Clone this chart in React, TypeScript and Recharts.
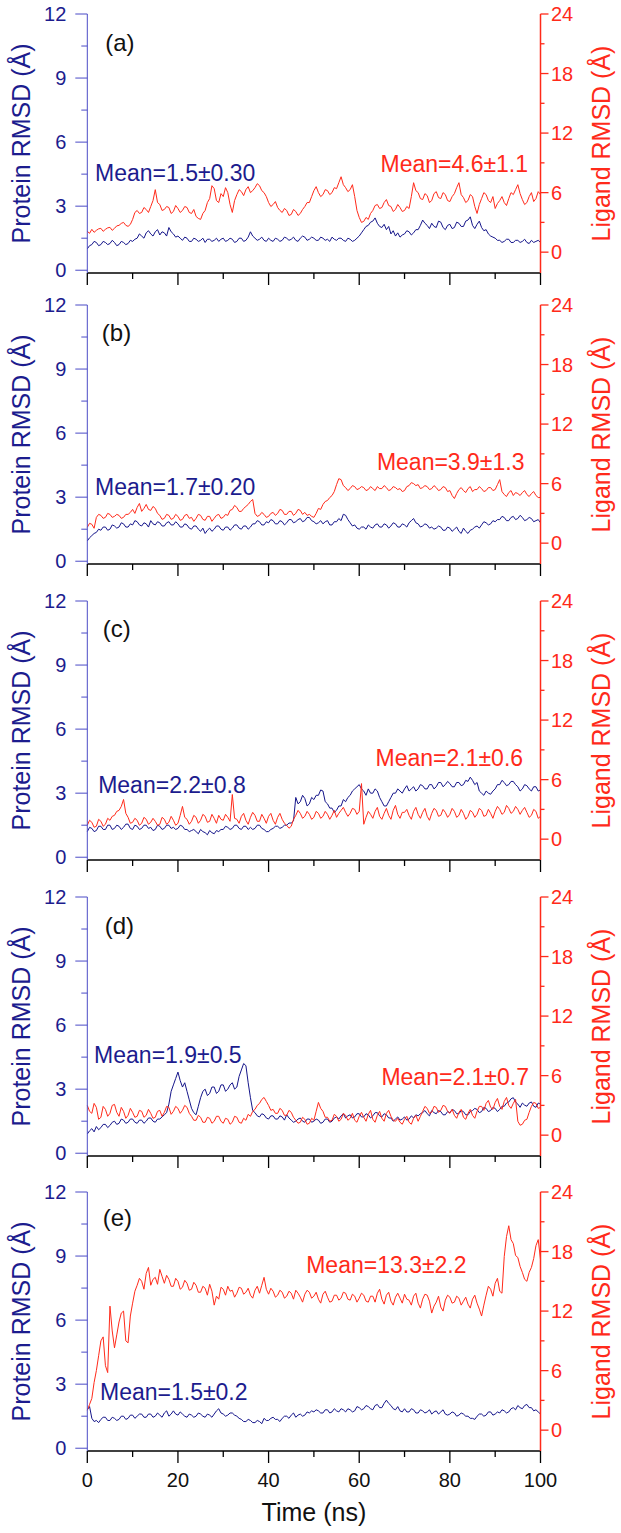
import React from "react";
import { LineChart, Line, XAxis, YAxis, ReferenceDot } from "recharts";

// time axis, ns (one sample every 0.5 ns)
const TIME_NS = Array.from({ length: 201 }, (_, i) => i / 2);

// protein RMSD (Å), left axis
const PROTEIN_A = [
  1.0, 1.15, 1.2, 1.35, 1.3, 1.15, 1.2, 1.35, 1.3, 1.2, 1.25, 1.4, 1.3, 1.15, 1.2, 1.35, 1.3, 1.2, 1.25, 1.4,
  1.35, 1.45, 1.5, 1.7, 1.6, 1.5, 1.75, 1.85, 1.7, 1.6, 1.8, 1.9, 1.65, 1.8, 1.75, 1.6, 2.0, 1.8, 1.7, 1.55,
  1.6, 1.5, 1.4, 1.55, 1.5, 1.35, 1.35, 1.5, 1.45, 1.35, 1.4, 1.5, 1.3, 1.45, 1.45, 1.35, 1.4, 1.5, 1.35, 1.45,
  1.5, 1.35, 1.4, 1.5, 1.45, 1.3, 1.35, 1.5, 1.5, 1.35, 1.4, 1.55, 1.8, 1.6, 1.5, 1.4, 1.45, 1.55, 1.4, 1.35,
  1.5, 1.4, 1.35, 1.5, 1.45, 1.35, 1.4, 1.55, 1.5, 1.4, 1.45, 1.55, 1.4, 1.35, 1.5, 1.6, 1.55, 1.4, 1.45, 1.55,
  1.5, 1.4, 1.4, 1.55, 1.5, 1.4, 1.45, 1.35, 1.55, 1.45, 1.4, 1.5, 1.5, 1.4, 1.35, 1.5, 1.45, 1.35, 1.4, 1.5,
  1.6, 1.75, 1.9, 2.05, 2.1, 2.25, 2.3, 2.45, 2.2, 2.05, 2.0, 2.15, 1.9, 2.05, 1.7, 1.85, 1.6, 1.75, 1.55, 1.65,
  1.7, 1.85, 1.8, 1.65, 1.75, 1.9, 1.9, 2.1, 2.35, 2.2, 2.1, 1.95, 2.2, 2.05, 2.0, 2.3, 2.25, 2.0, 1.9, 2.1,
  2.15, 1.95, 2.0, 2.25, 2.2, 2.05, 2.05, 2.3, 2.35, 2.5, 2.1, 1.95, 2.15, 2.3, 2.0, 1.85, 1.9, 1.7, 1.6, 1.55,
  1.5, 1.4, 1.4, 1.3, 1.35, 1.45, 1.45, 1.3, 1.3, 1.4, 1.4, 1.3, 1.35, 1.45, 1.3, 1.25, 1.4, 1.3, 1.35, 1.4,
  1.3,
];
const PROTEIN_B = [
  0.95, 1.1, 1.2, 1.3, 1.35, 1.5, 1.45, 1.6, 1.6, 1.45, 1.5, 1.7, 1.65, 1.55, 1.6, 1.8, 1.75, 1.6, 1.6, 1.75,
  1.7, 1.9, 1.85, 1.7, 1.65, 1.8, 1.75, 1.6, 1.9, 1.75, 1.7, 1.85, 1.8, 1.65, 1.65, 1.8, 1.85, 1.7, 1.7, 1.85,
  1.75, 1.6, 1.6, 1.75, 1.7, 1.55, 1.5, 1.65, 1.65, 1.5, 1.4, 1.55, 1.3, 1.45, 1.55, 1.4, 1.5, 1.65, 1.65, 1.5,
  1.45, 1.6, 1.6, 1.45, 1.55, 1.7, 1.7, 1.55, 1.5, 1.65, 1.65, 1.5, 1.6, 1.75, 1.75, 1.9, 1.85, 1.7, 1.7, 1.85,
  1.8, 1.95, 1.9, 1.75, 1.75, 1.9, 1.85, 1.7, 1.8, 1.95, 1.95, 1.8, 1.85, 1.95, 2.0, 1.85, 1.9, 2.05, 2.05, 1.9,
  1.85, 1.75, 1.8, 1.9, 1.75, 1.85, 1.9, 1.7, 1.7, 1.85, 1.85, 2.0, 1.9, 2.2, 2.15, 1.95, 1.8, 1.65, 1.7, 1.55,
  1.5, 1.6, 1.6, 1.5, 1.7, 1.6, 1.55, 1.7, 1.75, 1.6, 1.6, 1.75, 1.7, 1.55, 1.65, 1.8, 1.75, 1.6, 1.6, 1.75,
  1.7, 1.6, 1.8, 1.9, 2.0, 1.8, 1.75, 1.6, 1.65, 1.75, 1.7, 1.55, 1.6, 1.5, 1.55, 1.65, 1.6, 1.45, 1.45, 1.6,
  1.55, 1.4, 1.5, 1.6, 1.4, 1.3, 1.55, 1.4, 1.3, 1.45, 1.5, 1.6, 1.65, 1.55, 1.7, 1.85, 1.8, 1.7, 1.75, 1.9,
  1.85, 1.95, 1.95, 2.1, 2.05, 1.9, 1.9, 2.05, 2.1, 1.95, 2.0, 2.15, 2.05, 1.9, 1.95, 2.05, 2.0, 1.85, 1.9, 1.95,
  1.8,
];
const PROTEIN_C = [
  1.2, 1.4, 1.35, 1.2, 1.25, 1.45, 1.45, 1.3, 1.3, 1.5, 1.5, 1.3, 1.35, 1.5, 1.45, 1.3, 1.4, 1.55, 1.55, 1.35,
  1.3, 1.5, 1.45, 1.3, 1.35, 1.5, 1.5, 1.35, 1.4, 1.25, 1.3, 1.5, 1.45, 1.3, 1.35, 1.5, 1.5, 1.35, 1.4, 1.3,
  1.35, 1.5, 1.45, 1.3, 1.3, 1.2, 1.25, 1.3, 1.2, 1.1, 1.3, 1.2, 1.15, 1.05, 1.25, 1.15, 1.1, 1.25, 1.2, 1.3,
  1.3, 1.45, 1.4, 1.3, 1.35, 1.5, 1.5, 1.35, 1.3, 1.45, 1.45, 1.3, 1.4, 1.3, 1.35, 1.5, 1.5, 1.35, 1.3, 1.2,
  1.2, 1.3, 1.35, 1.45, 1.45, 1.35, 1.4, 1.5, 1.5, 1.6, 1.6, 1.7, 2.8, 2.5, 2.6, 2.9, 2.75, 2.4, 2.5, 2.8,
  2.7, 2.9, 2.9, 3.15, 3.1, 2.6, 2.5, 2.3, 2.3, 2.1, 2.2, 2.4, 2.4, 2.7, 2.6, 2.8, 2.9, 3.1, 3.2, 3.3,
  3.4, 3.2, 3.1, 2.9, 3.2, 3.0, 3.0, 3.2, 3.1, 2.8, 2.6, 2.4, 2.4, 2.6, 2.8, 3.0, 3.0, 3.2, 3.1, 3.0,
  3.2, 3.35, 3.1, 3.2, 3.3, 3.1, 3.2, 3.4, 3.35, 3.2, 3.2, 3.4, 3.4, 3.2, 3.3, 3.5, 3.5, 3.3, 3.4, 3.55,
  3.45, 3.3, 3.3, 3.5, 3.5, 3.35, 3.4, 3.6, 3.55, 3.75, 3.6, 3.4, 3.5, 3.1, 3.0, 2.9, 3.1, 3.0, 2.95, 3.1,
  3.2, 3.4, 3.4, 3.6, 3.5, 3.35, 3.4, 3.55, 3.55, 3.4, 3.3, 3.1, 3.2, 3.4, 3.35, 3.2, 3.1, 3.3, 3.3, 3.1,
  3.15,
];
const PROTEIN_D = [
  0.9, 1.05, 1.15, 1.0, 1.25, 1.1, 1.2, 1.35, 1.35, 1.2, 1.3, 1.45, 1.5, 1.35, 1.4, 1.6, 1.55, 1.4, 1.45, 1.6,
  1.6, 1.45, 1.4, 1.55, 1.55, 1.4, 1.5, 1.65, 1.65, 1.5, 1.45, 1.6, 1.6, 1.7, 1.8, 1.9, 2.3, 2.9, 3.2, 3.5,
  3.8, 3.4, 3.1, 3.3, 2.9, 2.5, 2.1, 1.9, 1.8, 2.2, 2.6, 2.9, 3.0, 2.7, 2.8, 3.1, 3.1, 2.8, 2.9, 3.2,
  3.2, 2.9, 3.0, 3.2, 3.3, 3.0, 3.1, 3.6, 3.9, 4.2, 4.1, 3.3, 2.6, 2.0, 1.9, 1.75, 1.7, 1.85, 1.8, 1.65,
  1.6, 1.75, 1.75, 1.6, 1.6, 1.75, 1.7, 1.55, 1.8, 1.65, 1.55, 1.45, 1.5, 1.6, 1.65, 1.5, 1.45, 1.6, 1.6, 1.45,
  1.5, 1.6, 1.55, 1.4, 1.45, 1.6, 1.6, 1.45, 1.5, 1.65, 1.7, 1.6, 1.75, 1.85, 1.65, 1.75, 1.8, 1.65, 1.7, 1.85,
  1.85, 1.7, 1.7, 1.85, 1.8, 1.65, 1.75, 1.9, 1.9, 1.75, 1.7, 1.85, 1.8, 1.65, 1.65, 1.5, 1.6, 1.7, 1.55, 1.6,
  1.7, 1.55, 1.6, 1.75, 1.65, 1.8, 1.75, 1.85, 1.9, 2.0, 1.85, 1.75, 2.0, 1.9, 1.85, 2.0, 1.95, 1.8, 1.8, 1.95,
  1.9, 2.05, 2.0, 1.85, 1.85, 2.0, 1.95, 1.8, 1.8, 1.95, 2.0, 2.1, 2.05, 1.9, 1.95, 2.15, 2.1, 1.95, 2.0, 2.15,
  2.1, 1.95, 2.05, 2.2, 2.2, 2.35, 2.4, 2.55, 2.6, 2.4, 2.3, 2.15, 2.35, 2.25, 2.2, 2.35, 2.4, 2.2, 2.15, 2.35,
  2.3,
];
const PROTEIN_E = [
  1.8, 1.95, 1.4, 1.25, 1.3, 1.2, 1.35, 1.45, 1.45, 1.3, 1.3, 1.45, 1.4, 1.3, 1.35, 1.5, 1.5, 1.35, 1.4, 1.55,
  1.55, 1.4, 1.5, 1.6, 1.6, 1.45, 1.45, 1.6, 1.6, 1.45, 1.5, 1.65, 1.55, 1.45, 1.65, 1.75, 1.5, 1.6, 1.75, 1.6,
  1.55, 1.7, 1.6, 1.5, 1.45, 1.6, 1.55, 1.45, 1.5, 1.65, 1.6, 1.5, 1.45, 1.6, 1.55, 1.45, 1.6, 1.75, 1.85, 1.65,
  1.6, 1.5, 1.55, 1.65, 1.65, 1.55, 1.5, 1.4, 1.35, 1.25, 1.25, 1.35, 1.3, 1.2, 1.2, 1.3, 1.25, 1.15, 1.4, 1.3,
  1.3, 1.4, 1.45, 1.35, 1.35, 1.25, 1.4, 1.5, 1.5, 1.4, 1.55, 1.65, 1.45, 1.55, 1.6, 1.5, 1.55, 1.7, 1.65, 1.75,
  1.7, 1.8, 1.75, 1.65, 1.65, 1.8, 1.8, 1.65, 1.7, 1.85, 1.75, 1.7, 1.85, 1.8, 1.7, 1.85, 1.8, 1.7, 1.75, 1.95,
  1.9, 1.8, 1.85, 2.0, 1.95, 1.85, 1.8, 2.0, 2.05, 1.9, 1.9, 2.1, 2.25, 2.1, 2.0, 1.85, 1.8, 1.95, 1.75, 1.7,
  1.85, 1.7, 1.7, 1.85, 1.8, 1.65, 1.65, 1.8, 1.75, 1.65, 1.7, 1.8, 1.6, 1.7, 1.75, 1.6, 1.7, 1.8, 1.6, 1.55,
  1.6, 1.7, 1.65, 1.5, 1.55, 1.65, 1.6, 1.5, 1.5, 1.4, 1.4, 1.35, 1.5, 1.6, 1.6, 1.5, 1.55, 1.7, 1.7, 1.55,
  1.6, 1.7, 1.65, 1.8, 1.75, 1.65, 1.7, 1.85, 1.9, 1.8, 2.0, 1.9, 1.85, 2.0, 2.05, 1.9, 1.9, 1.75, 1.8, 1.7,
  1.6,
];

// ligand RMSD (Å), right axis
const LIGAND_A = [
  2.1, 1.9, 2.3, 2.0, 2.2, 2.35, 2.4, 2.1, 2.3, 2.45, 2.5, 2.2, 2.4, 2.65, 2.7, 2.9, 3.0, 2.7, 2.6, 2.8,
  3.3, 4.0, 4.2, 3.9, 4.0, 4.5, 4.3, 4.0, 4.6, 5.2, 6.3, 5.0, 4.8, 4.2, 4.3, 4.6, 4.5, 3.9, 4.1, 4.7,
  4.4, 4.0, 4.2, 4.6, 4.5, 4.0, 3.9, 4.3, 3.6, 3.4, 3.3, 3.9, 4.2, 5.0, 5.4, 6.7, 6.4, 5.2, 5.0, 5.9,
  5.6, 6.5, 6.0, 4.8, 4.0, 5.2, 5.8, 6.3, 6.1, 5.7, 6.3, 6.6, 6.0, 6.2, 6.5, 6.9, 6.7, 6.2, 6.0, 5.6,
  5.0, 4.6, 4.8, 5.1, 4.5, 4.2, 4.0, 4.4, 4.2, 3.7, 3.8, 4.3, 4.1, 3.7, 3.9, 4.3, 4.6, 5.0, 5.0, 5.6,
  6.2, 6.6, 6.0, 5.6, 5.8, 6.3, 6.2, 5.8, 6.0, 6.5, 6.4, 7.0, 7.6, 6.8, 6.5, 6.1, 6.3, 6.8, 5.6, 4.2,
  3.5, 3.0, 3.1, 3.5, 3.3, 3.9, 4.2, 4.7, 4.8, 4.4, 4.5, 5.0, 5.3, 4.7, 4.6, 4.1, 4.3, 4.8, 4.5, 4.1,
  4.2, 4.6, 4.4, 5.6, 7.0, 6.2, 6.0, 5.4, 5.3, 5.9, 5.7, 5.0, 5.2, 5.9, 6.1, 5.5, 5.4, 6.0, 5.8, 5.2,
  5.1, 5.6, 5.9, 6.5, 7.0, 5.8, 5.5, 5.0, 5.2, 5.8, 5.6, 4.6, 3.9, 4.8, 5.4, 6.0, 5.8, 5.2, 5.0, 5.6,
  4.4, 4.9, 5.2, 5.6, 5.0, 4.7, 5.4, 6.0, 5.8, 6.3, 6.8, 5.9, 5.3, 4.8, 5.0, 5.6, 6.0, 5.1, 5.4, 6.1,
  5.8,
];
const LIGAND_B = [
  1.6, 2.0, 1.9, 1.5, 2.6, 2.9, 2.8, 2.5, 2.6, 3.0, 2.9, 2.6, 2.7, 2.9, 2.8, 2.5, 2.6, 2.9, 2.9, 3.1,
  3.4, 3.0, 3.6, 4.0, 3.2, 3.5, 3.9, 3.4, 3.3, 3.7, 3.5, 3.0, 2.8, 2.4, 2.5, 2.9, 2.8, 2.4, 2.5, 2.9,
  2.7, 2.3, 2.4, 2.8, 2.9, 2.5, 2.6, 2.2, 2.5, 2.9, 2.8, 2.4, 2.3, 2.7, 2.7, 2.2, 2.5, 2.8, 2.9, 2.5,
  2.6, 2.9, 2.8, 3.3, 3.4, 3.8, 3.6, 3.2, 3.2, 3.5, 3.7, 3.9, 4.2, 4.4, 3.0, 2.7, 2.8, 3.1, 2.9, 2.6,
  2.7, 3.0, 3.1, 2.8, 3.0, 3.4, 3.3, 2.9, 2.9, 3.2, 3.2, 2.8, 3.0, 3.4, 3.3, 2.9, 3.1, 2.8, 2.9, 2.7,
  2.6, 3.0, 3.5, 3.4, 3.9, 4.2, 4.3, 4.6, 4.8, 5.2, 5.9, 6.5, 6.4, 5.8, 5.6, 5.3, 5.5, 5.8, 5.7, 5.4,
  5.5, 5.7, 5.6, 5.3, 5.4, 5.7, 5.5, 5.3, 5.7, 5.5, 5.5, 5.8, 5.6, 5.3, 5.4, 5.7, 5.6, 5.4, 5.5, 5.2,
  5.3, 5.7, 5.8, 6.1, 6.0, 5.8, 5.9, 5.5, 5.6, 5.8, 5.7, 5.4, 5.5, 5.8, 5.6, 5.3, 5.4, 5.7, 5.6, 5.2,
  5.3, 4.8, 4.5, 5.0, 5.4, 5.6, 5.3, 5.1, 5.5, 5.7, 5.2, 5.4, 5.4, 5.7, 5.5, 5.2, 5.3, 5.6, 5.6, 5.3,
  5.4, 5.9, 6.4, 5.2, 4.9, 4.7, 5.1, 5.3, 4.8, 5.1, 5.0, 4.8, 5.1, 5.3, 4.9, 4.7, 5.0, 5.2, 4.8, 4.6,
  4.6,
];
const LIGAND_C = [
  1.4, 1.9, 1.7, 1.2, 1.3, 2.0, 1.8, 1.3, 1.5, 2.1, 1.9, 2.3, 2.4, 2.8, 2.9, 3.3, 4.0, 2.6, 2.2, 1.6,
  1.7, 2.1, 1.9, 1.4, 1.6, 2.2, 2.0, 1.5, 1.7, 2.1, 1.8, 1.4, 1.5, 2.2, 2.0, 1.5, 1.7, 2.3, 1.9, 1.4,
  1.6, 2.4, 3.3, 2.2, 2.0, 1.5, 1.8, 2.4, 2.2, 1.6, 1.9, 2.5, 2.3, 1.7, 1.8, 2.5, 2.1, 1.6, 2.4, 2.0,
  1.9, 2.5, 2.2, 1.8, 4.5, 2.1, 2.0, 1.6, 2.3, 2.6, 1.9, 1.5, 2.2, 2.7, 2.4, 1.8, 1.8, 2.5, 2.1, 1.6,
  2.3, 2.6, 1.9, 1.5, 2.2, 2.6, 2.0, 1.6, 1.4, 1.1, 1.3, 2.0, 2.4, 2.9, 2.6, 2.1, 2.3, 2.8, 2.5, 2.0,
  2.2, 2.8, 2.6, 2.1, 2.3, 2.8, 2.5, 2.0, 2.4, 2.9, 2.2, 2.6, 2.9, 3.2, 2.7, 2.3, 2.6, 3.1, 3.0, 2.5,
  2.8, 5.6, 1.5, 2.2, 2.8, 2.5, 2.1, 2.8, 3.2, 2.3, 2.0, 2.6, 3.1, 2.4, 2.0, 2.9, 3.4, 2.5, 2.1, 2.7,
  2.7, 3.0, 2.4, 2.0, 2.8, 3.2, 2.5, 2.1, 2.7, 3.1, 2.3, 1.9, 2.6, 3.1, 2.9, 2.3, 2.4, 3.0, 2.7, 2.2,
  2.5, 3.1, 2.8, 2.2, 2.4, 3.0, 2.6, 2.0, 2.3, 2.9, 2.7, 2.2, 2.5, 3.1, 2.9, 2.3, 2.4, 3.0, 2.6, 2.1,
  2.8, 3.3, 3.0, 2.5, 2.7, 3.4, 3.1, 2.6, 2.8, 3.3, 3.0, 2.5, 2.9, 3.2, 2.7, 2.2, 2.4, 3.0, 2.8, 2.1,
  2.3,
];
const LIGAND_D = [
  3.0, 2.4, 2.2, 3.2, 2.8, 1.6, 1.8, 2.9, 2.6, 1.9, 2.2, 3.0, 3.1, 2.3, 1.9, 2.8, 2.4, 1.7, 2.0, 2.7,
  2.3, 1.8, 1.9, 2.5, 2.4, 1.8, 2.0, 2.6, 2.2, 1.7, 1.8, 2.4, 2.5, 1.9, 2.3, 2.9, 2.8, 2.1, 2.4, 2.9,
  2.7, 2.2, 2.5, 3.0, 2.8, 2.2, 1.9, 1.5, 1.5, 2.0, 1.8, 1.3, 1.3, 1.8, 1.7, 1.2, 1.4, 1.9, 1.9, 1.4,
  1.2, 1.7, 1.6, 1.1, 1.3, 1.9, 1.8, 1.3, 1.2, 1.7, 1.5, 2.1, 1.9, 2.4, 2.6, 3.0, 3.2, 3.6, 3.8, 3.4,
  3.0, 2.5, 2.6, 2.2, 2.2, 2.7, 2.5, 2.0, 2.0, 2.5, 2.3, 1.8, 1.5, 1.2, 1.3, 1.8, 1.6, 1.1, 1.2, 1.7,
  1.5, 2.4, 3.3, 2.7, 2.4, 1.8, 1.8, 1.4, 1.5, 2.1, 1.9, 1.4, 1.6, 2.2, 2.0, 1.5, 1.7, 2.2, 1.5, 1.3,
  1.9, 2.3, 1.8, 1.4, 2.1, 2.5, 1.6, 1.3, 2.0, 2.4, 1.7, 1.4, 2.2, 2.5, 1.9, 1.5, 1.4, 1.7, 1.3, 1.1,
  1.6, 1.9, 1.3, 1.1, 1.7, 2.0, 1.4, 1.9, 2.4, 2.9, 2.7, 2.2, 2.3, 2.9, 2.8, 2.3, 2.5, 3.0, 2.9, 2.4,
  2.2, 2.6, 2.0, 1.7, 2.3, 2.6, 1.8, 1.6, 2.2, 2.6, 2.0, 1.7, 2.4, 2.9, 2.9, 2.5, 3.2, 3.5, 2.8, 2.6,
  3.3, 3.7, 2.9, 2.6, 3.4, 3.8, 3.0, 2.7, 3.2, 3.6, 1.4, 1.0, 1.1, 1.5, 1.6, 2.3, 2.9, 3.3, 3.2, 2.7,
  2.8,
];
const LIGAND_E = [
  2.0, 2.6, 3.2, 4.8, 6.0, 7.5, 9.0, 9.4, 6.5, 5.8, 12.5, 10.0, 8.3, 9.6, 10.9, 11.8, 12.0, 9.0, 8.8, 11.5,
  12.8, 14.0, 14.6, 15.3, 15.0, 14.2, 15.8, 16.4, 14.6, 15.2, 15.4, 14.7, 16.2, 15.5, 14.8, 15.6, 15.2, 14.5, 14.5, 15.3,
  15.0, 14.2, 14.4, 15.1, 14.8, 14.1, 14.2, 14.9, 14.6, 13.9, 13.9, 14.5, 14.3, 13.6, 14.7, 14.0, 12.6, 13.5, 13.2, 14.4,
  14.2, 13.6, 14.5, 14.0, 14.1, 13.4, 13.8, 14.4, 14.3, 13.7, 13.9, 14.3, 13.6, 13.3, 14.1, 14.5, 13.8, 14.6, 15.4, 14.2,
  13.7, 14.3, 14.0, 13.4, 13.6, 14.1, 13.9, 13.3, 13.5, 14.0, 13.8, 13.2, 14.1, 13.8, 13.4, 12.9, 13.7, 14.1, 13.9, 13.3,
  13.5, 13.9, 13.2, 12.8, 13.7, 14.0, 13.4, 12.9, 13.0, 13.6, 13.6, 13.1, 13.3, 13.9, 13.8, 13.2, 13.1, 13.7, 13.5, 12.9,
  13.3, 13.8, 13.6, 13.0, 12.9, 13.5, 13.5, 12.9, 13.8, 14.2, 13.2, 12.7, 13.6, 13.9, 13.0, 12.6, 13.4, 13.8, 13.3, 12.8,
  13.7, 13.2, 13.1, 12.6, 13.5, 13.8, 12.8, 12.3, 13.2, 13.7, 13.6, 13.0, 11.8, 12.5, 12.9, 13.5, 12.4, 12.0, 13.1, 13.6,
  13.4, 12.8, 12.9, 13.5, 13.3, 12.6, 13.0, 13.4, 12.7, 12.3, 13.2, 13.6, 12.8, 12.2, 11.5, 12.6, 13.6, 14.5, 14.2, 13.5,
  14.8, 15.3, 14.0, 13.8, 17.5, 19.5, 20.6, 19.2, 18.8, 17.6, 17.4, 16.5, 15.9, 15.2, 15.0, 15.9, 16.4, 17.3, 18.6, 19.2,
  17.2,
];

const PANEL_TAGS = ["(a)", "(b)", "(c)", "(d)", "(e)"];
const PROTEIN_MEANS = ["Mean=1.5±0.30", "Mean=1.7±0.20", "Mean=2.2±0.8", "Mean=1.9±0.5", "Mean=1.5±0.2"];
const LIGAND_MEANS = ["Mean=4.6±1.1", "Mean=3.9±1.3", "Mean=2.1±0.6", "Mean=2.1±0.7", "Mean=13.3±2.2"];

const X_TICKS = [0, 10, 20, 30, 40, 50, 60, 70, 80, 90, 100];
const LEFT_TICKS = [0, 1.5, 3, 4.5, 6, 7.5, 9, 10.5, 12];
const RIGHT_TICKS = [0, 3, 6, 9, 12, 15, 18, 21, 24];

// layout
const FONT = '"Liberation Sans", Arial, sans-serif';
const BLUE = "#15158a";
const BLUE_TEXT = "#1c1c8e";
const BLUE_AXIS = "#4b4bc6";
const RED = "#ff2a1a";
const W = 621;
const PLOT_TOPS = [14, 305, 601, 897, 1192];
const PLOT_H = 259;
const LEFT_W = 87.3;
const RIGHT_W = 80.5;

// annotation anchors in data units [ns, protein Å]
const TAG_POS = [[3.97, 10.65], [3.2, 10.7], [3.4, 10.7], [3.85, 10.67], [3.4, 10.83]];
const PMEAN_POS = [[1.7, 4.55], [1.7, 3.49], [2.4, 3.37], [1.5, 4.6], [2.8, 2.64]];
const LMEAN_POS = [[64.7, 5.0], [63.9, 4.65], [63.6, 4.66], [64.9, 3.58], [48.3, 8.58]];

const panels = [
  { p: PROTEIN_A, l: LIGAND_A },
  { p: PROTEIN_B, l: LIGAND_B },
  { p: PROTEIN_C, l: LIGAND_C },
  { p: PROTEIN_D, l: LIGAND_D },
  { p: PROTEIN_E, l: LIGAND_E },
];

function LeftTick(props: any) {
  const { x, y, payload } = props;
  const major = payload.value % 3 === 0;
  return (
    <g>
      <line x1={x} x2={x - (major ? 12 : 6)} y1={y} y2={y} stroke={BLUE_AXIS} strokeWidth={1} />
      {major && (
        <text x={x - 21} y={y} dy="0.36em" textAnchor="end" fill={BLUE_TEXT} fontSize={20} fontFamily={FONT}>
          {payload.value}
        </text>
      )}
    </g>
  );
}

function RightTick(props: any) {
  const { x, y, payload } = props;
  const major = payload.value % 6 === 0;
  return (
    <g>
      <line x1={x} x2={x + (major ? 8 : 4)} y1={y} y2={y} stroke={RED} strokeWidth={1.3} />
      {major && (
        <text x={x + 10.5} y={y} dy="0.36em" textAnchor="start" fill={RED} fontSize={20} fontFamily={FONT}>
          {payload.value}
        </text>
      )}
    </g>
  );
}

function BottomTick(props: any) {
  const { x, y, payload, showLabel } = props;
  const major = payload.value % 20 === 0;
  return (
    <g>
      <line x1={x} x2={x} y1={y} y2={y + (major ? 12 : 6)} stroke="#000" strokeWidth={1.3} />
      {showLabel && major && (
        <text x={x} y={y + 29} dy="0.36em" textAnchor="middle" fill="#111" fontSize={20} fontFamily={FONT}>
          {payload.value}
        </text>
      )}
    </g>
  );
}

function TopTick(props: any) {
  const { x, y, payload } = props;
  const major = payload.value % 20 === 0;
  return <line x1={x} x2={x} y1={y} y2={y + (major ? 12 : 7)} stroke="#000" strokeWidth={1.3} />;
}

function Panel({ idx }: { idx: number }) {
  const last = idx === panels.length - 1;
  const { p, l } = panels[idx];
  const data = TIME_NS.map((t, i) => ({ t, p: p[i], l: l[i] }));
  const height = last ? 1533 - (PLOT_TOPS[idx] - 14) : 290;
  const xAxisH = height - 14 - PLOT_H;
  return (
    <div style={{ position: "absolute", left: 0, top: PLOT_TOPS[idx] - 14 }}>
      <LineChart width={W} height={height} data={data} margin={{ top: 14, right: 0, bottom: 0, left: 0 }}>
        <XAxis
          xAxisId="top"
          orientation="top"
          type="number"
          dataKey="t"
          domain={[0, 100]}
          ticks={X_TICKS}
          interval={0}
          height={0}
          tickSize={0}
          tickMargin={0}
          tickLine={false}
          tick={(tp: any) => <TopTick {...tp} />}
          axisLine={{ stroke: "#000", strokeWidth: 1.5 }}
        />
        <XAxis
          type="number"
          dataKey="t"
          domain={[0, 100]}
          ticks={X_TICKS}
          interval={0}
          height={xAxisH}
          tickSize={0}
          tickMargin={0}
          tickLine={false}
          tick={(tp: any) => <BottomTick {...tp} showLabel={last} />}
          axisLine={{ stroke: "#000", strokeWidth: 1.5 }}
          label={
            last
              ? { value: "Time (ns)", position: "insideBottom", offset: 12, fill: "#111", fontSize: 25, fontFamily: FONT }
              : undefined
          }
        />
        <YAxis
          yAxisId="left"
          orientation="left"
          type="number"
          domain={[-0.13, 12]}
          allowDataOverflow
          ticks={LEFT_TICKS}
          interval={0}
          width={LEFT_W}
          tickSize={0}
          tickMargin={0}
          tickLine={false}
          tick={(tp: any) => <LeftTick {...tp} />}
          axisLine={{ stroke: BLUE_AXIS, strokeWidth: 1 }}
          label={{
            value: "Protein RMSD (Å)",
            angle: -90,
            position: "insideLeft",
            offset: 21,
            textAnchor: "middle",
            fill: BLUE_TEXT,
            fontSize: 25,
            fontFamily: FONT,
          }}
        />
        <YAxis
          yAxisId="right"
          orientation="right"
          type="number"
          domain={[-2.1, 24]}
          allowDataOverflow
          ticks={RIGHT_TICKS}
          interval={0}
          width={RIGHT_W}
          tickSize={0}
          tickMargin={0}
          tickLine={false}
          tick={(tp: any) => <RightTick {...tp} />}
          axisLine={{ stroke: RED, strokeWidth: 1.5 }}
          label={{
            value: "Ligand RMSD (Å)",
            angle: -90,
            position: "insideRight",
            offset: 20,
            textAnchor: "middle",
            fill: RED,
            fontSize: 25,
            fontFamily: FONT,
          }}
        />
        <Line yAxisId="left" dataKey="p" stroke={BLUE} strokeWidth={1} dot={false} isAnimationActive={false} />
        <Line yAxisId="right" dataKey="l" stroke={RED} strokeWidth={1} dot={false} isAnimationActive={false} />
        <ReferenceDot
          yAxisId="left"
          x={TAG_POS[idx][0]}
          y={TAG_POS[idx][1]}
          r={0}
          fill="none"
          stroke="none"
          ifOverflow="visible"
          label={{ value: PANEL_TAGS[idx], position: "right", offset: 0, fill: "#111", fontSize: 24, fontFamily: FONT }}
        />
        <ReferenceDot
          yAxisId="left"
          x={PMEAN_POS[idx][0]}
          y={PMEAN_POS[idx][1]}
          r={0}
          fill="none"
          stroke="none"
          ifOverflow="visible"
          label={{ value: PROTEIN_MEANS[idx], position: "right", offset: 0, fill: BLUE_TEXT, fontSize: 23, fontFamily: FONT }}
        />
        <ReferenceDot
          yAxisId="left"
          x={LMEAN_POS[idx][0]}
          y={LMEAN_POS[idx][1]}
          r={0}
          fill="none"
          stroke="none"
          ifOverflow="visible"
          label={{ value: LIGAND_MEANS[idx], position: "right", offset: 0, fill: RED, fontSize: 23, fontFamily: FONT }}
        />
      </LineChart>
    </div>
  );
}

export default function App() {
  return (
    <div style={{ position: "absolute", left: 0, top: 0, width: W, height: 1533, background: "#fff", fontFamily: FONT }}>
      {panels.map((_, i) => (
        <Panel key={i} idx={i} />
      ))}
    </div>
  );
}
